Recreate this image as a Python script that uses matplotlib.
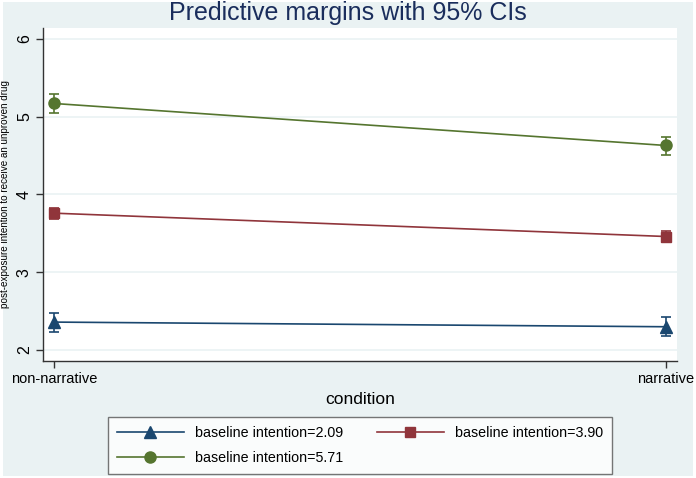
import matplotlib.pyplot as plt
from matplotlib.patches import Rectangle

plt.rcParams['font.family'] = ['Liberation Sans', 'DejaVu Sans']

# data
conditions = ['non-narrative', 'narrative']
labels = ['baseline intention=2.09', 'baseline intention=3.90', 'baseline intention=5.71']
margins = [[2.36, 2.30], [3.76, 3.46], [5.17, 4.63]]
ci_low = [[2.23, 2.18], [3.69, 3.39], [5.05, 4.51]]
ci_high = [[2.48, 2.42], [3.83, 3.53], [5.29, 4.74]]

colors = ['#1a476f', '#90353b', '#55752f']
markers = ['^', 's', 'o']
bg = '#eaf2f3'

fig = plt.figure(figsize=(6.96, 4.78), dpi=100, facecolor='white')
fig.patches.append(Rectangle((0.004, 0.004), 0.992, 0.992, transform=fig.transFigure,
                             facecolor=bg, edgecolor='none', zorder=-10))
ax = fig.add_axes([0.0618, 0.2448, 0.9109, 0.6966])
ax.set_facecolor('white')

x = list(range(len(conditions)))
handles = []
for i in range(len(labels)):
    yerr = [[m - lo for m, lo in zip(margins[i], ci_low[i])],
            [hi - m for m, hi in zip(margins[i], ci_high[i])]]
    ax.errorbar(x, margins[i], yerr=yerr, fmt='none', ecolor=colors[i],
                elinewidth=1.2, capsize=3.5, capthick=1.2, zorder=3)
    h, = ax.plot(x, margins[i], color=colors[i], lw=1.2, marker=markers[i],
                 markersize=8 if markers[i] != 's' else 7, zorder=4, label=labels[i])
    handles.append(h)

ax.set_xlim(-0.018, 1.018)
ax.set_ylim(1.86, 6.14)
ax.set_xticks(x)
ax.set_xticklabels(conditions, fontsize=10.5)
ax.set_yticks([2, 3, 4, 5, 6])
ax.set_yticklabels(['2', '3', '4', '5', '6'], fontsize=11.5, rotation=90, va='center')
ax.grid(axis='y', color=bg, lw=1.2)
ax.set_axisbelow(True)
for s in ['top', 'right']:
    ax.spines[s].set_visible(False)
for s in ['left', 'bottom']:
    ax.spines[s].set_color('#333333')
    ax.spines[s].set_linewidth(1.0)
ax.tick_params(length=5, width=1.0, color='#333333', labelcolor='black', pad=3)

ax.set_xlabel('condition', fontsize=12.5, labelpad=4)
ax.set_ylabel('post-exposure intention to receive an unproven drug', fontsize=7.1, labelpad=5)
fig.text(0.5, 0.972, 'Predictive margins with 95% CIs', ha='center', va='center',
         fontsize=18, color='#1a2d5c')

leg = fig.legend([handles[0], handles[2], handles[1]], [labels[0], labels[2], labels[1]],
                 ncol=2, loc='center', bbox_to_anchor=(0.1552, 0.0084, 0.7241, 0.1192),
                 mode='expand', fontsize=10.3, handlelength=4.7, frameon=True, fancybox=False,
                 borderaxespad=0, borderpad=0.6, labelspacing=0.8, handletextpad=0.8,
                 columnspacing=1.5)
leg.get_frame().set_edgecolor('#555555')
leg.get_frame().set_linewidth(1.0)

fig.savefig('out.png', dpi=100, facecolor=fig.get_facecolor())
